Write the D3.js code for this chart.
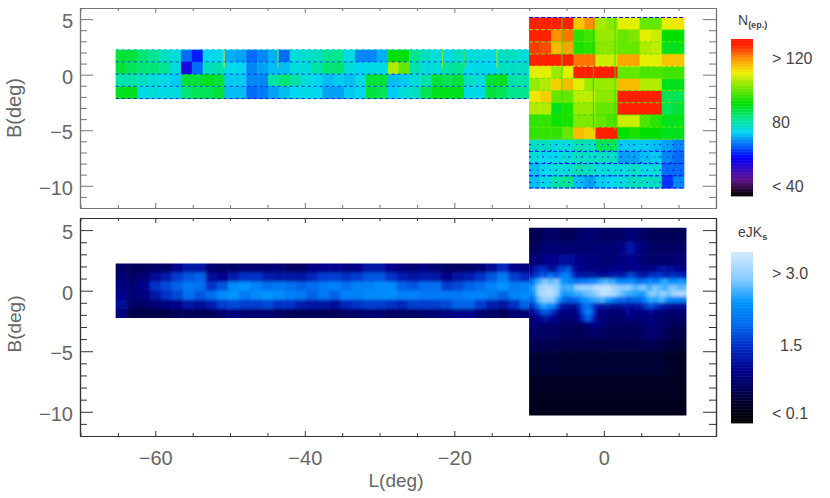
<!DOCTYPE html>
<html><head><meta charset="utf-8">
<script src="https://cdn.jsdelivr.net/npm/d3@7"></script>
<style>html,body{margin:0;background:#fff}svg{display:block}text{font-family:"Liberation Sans",sans-serif;fill:#666}</style>
</head><body><svg id="c" width="830" height="498"></svg>
<script>
// ---- Top panel: epochs per tile, rows north to south ----
const bulgeEpochs = [
[130,130,130,130,115,120,105,103,110,110,100,100,110,112],
[128,128,120,122,95,97,104,104,100,102,110,108,92,92],
[126,125,116,118,94,95,103,103,100,100,106,107,90,90],
[130,130,130,130,122,122,108,108,118,118,110,110,115,115],
[110,110,104,110,130,130,130,130,100,100,98,98,97,97],
[104,106,114,116,110,104,104,104,116,116,106,106,90,90],
[112,114,100,100,107,107,103,103,130,130,130,130,86,86],
[106,106,90,94,104,104,100,100,130,130,130,130,86,88],
[96,96,93,94,102,102,100,98,108,108,98,95,90,90],
[96,96,96,100,116,114,130,130,92,94,92,92,90,90],
[78,78,76,76,80,78,86,86,73,73,73,72,70,68],
[76,74,74,76,78,78,78,78,70,70,72,73,68,66],
[72,74,76,76,80,78,76,76,76,78,75,76,66,66],
[72,75,80,82,72,70,73,74,76,78,78,78,62,68]];
const diskEpochs = [
[88,88,84,82,78,76,66,60,74,75,71,70,66,68,71,66,76,77,78,82,82,75,68,68,71,92,92,82,78,76,75,78,76,76,75,78,78,76],
[88,86,84,84,82,76,54,66,78,80,75,74,68,70,72,72,76,76,80,84,84,76,74,75,75,106,100,80,76,76,80,82,75,75,74,78,78,78],
[80,80,78,76,75,73,88,88,90,88,73,73,68,68,80,84,80,76,74,72,73,72,75,88,88,72,73,76,80,88,86,88,78,76,88,90,80,80],
[90,90,75,76,75,76,84,86,86,88,72,72,66,67,70,72,74,75,74,70,70,73,74,88,86,73,76,78,86,90,90,90,75,75,88,86,82,82]];
const bulgeSeamValues = [55,104,100,100,112,100,102,100,96,100,100,60,58,58,56];
const diskSeamValues = [72,62,60,60,52];
const speckleLats = [-6.3,-6.8,-7.4,-7.9,-8.6,-9.1,-9.7];
const speckleValue = [60,62,58,60,58,56,60];
const seamLons = [-50.8,-43.6,-28.9,-26,-21.6,-18.7,-14.3,-5.6,-1.4,1.5];
const seamValues = [112,105,95,100,105,100,108,95,90,95];
const epochTicks = [">  120","80","<  40"];
const epochTickValues = [120,80,40];

// ---- Bottom panel: colour excess, rows north to south ----
const diskLons = [-64.5,-63,-61.5,-60,-58.5,-57,-55.5,-54,-52.5,-51,-49.5,-48,-46.5,-45,-43.5,-42,-40.5,-39,-37.5,-36,-34.5,-33,-31.5,-30,-28.5,-27,-25.5,-24,-22.5,-21,-19.5,-18,-16.5,-15,-13.5,-12,-10.5];
const diskLats = [1.875,1.125,0.375,-0.375,-1.125,-1.875];
const diskExcess = [
[.7,.6,.6,.7,.7,1.0,1.2,1.2,.8,.7,.7,.8,.8,.8,.8,.7,.7,.9,1.0,1.0,.9,1.0,1.2,1.2,1.0,.9,.8,.9,.8,.7,.7,.7,.8,1.1,1.4,1.0,.9],
[.8,.7,.8,1.1,1.3,1.6,1.8,1.9,1.1,1.0,1.3,1.5,1.5,1.3,1.2,1.2,1.2,1.4,1.6,1.6,1.5,1.6,1.8,1.8,1.5,1.3,1.2,1.3,1.2,1.0,1.2,1.3,1.5,1.8,2.1,1.6,1.4],
[.9,.8,1.0,1.5,1.7,1.9,2.1,2.0,1.5,1.8,2.3,2.4,2.2,2.0,2.1,2.0,1.9,2.0,2.1,2.2,2.0,2.2,2.2,2.3,2.3,1.9,1.8,2.0,2.0,1.6,1.7,1.9,2.0,2.2,2.4,2.1,2.2],
[1.0,.8,.9,1.2,1.5,1.7,2.0,1.8,2.0,2.3,2.4,2.1,2.3,2.4,2.3,2.2,2.1,1.9,2.1,1.9,2.2,2.2,2.3,2.3,2.3,2.2,2.2,2.1,2.1,2.1,2.1,2.2,2.2,2.1,1.9,2.2,2.3],
[1.1,.7,.7,.8,.9,1.0,1.2,1.1,1.3,1.6,1.7,1.6,1.6,1.7,1.5,1.5,1.3,1.2,1.2,1.1,1.4,1.5,1.6,1.6,1.5,1.4,1.6,1.6,1.6,1.7,1.9,1.9,1.6,1.3,1.2,1.5,1.9],
[.9,.5,.5,.5,.5,.6,.6,.6,.6,.8,.9,.8,.8,.8,.7,.6,.6,.6,.6,.6,.7,.7,.8,.8,.7,.7,.7,.8,.8,.9,1.0,1.0,.8,.7,.6,.8,.8]];
const bulgeLatEdges = [5.2,4,3,2,-2.5,-3,-4,-5,-7,-8.5,-10.3];
const bulgeExcess = [
[.5,.6,.7,.7,.6,.6,.7,.8,.8,.7,.7,.7,.7,.9,.8,.7,.6,.6,.6,.6,.6],
[.6,.7,.8,.8,.8,.8,.8,.8,.8,.8,.8,.8,1.0,1.2,1.0,.8,.7,.7,.7,.7,.7],
[.8,.9,1.0,1.0,1.1,1.1,1.0,.9,.9,.8,.8,.8,.9,1.0,.9,.8,.7,.8,.8,.8,.8],
[1.5,1.5,1.5,1.5,1.5,1.5,1.5,1.5,1.5,1.5,1.5,1.5,1.5,1.5,1.5,1.5,1.5,1.5,1.5,1.5,1.5],
[.8,.8,.8,.8,.7,.7,.7,.8,1.0,.9,.7,.7,.7,.7,.7,.8,.9,.8,.7,.6,.6],
[.7,.7,.7,.7,.6,.6,.6,.6,.7,.7,.6,.6,.6,.6,.6,.7,.8,.7,.6,.5,.5],
[.55,.55,.55,.55,.5,.5,.5,.5,.5,.5,.5,.5,.5,.5,.5,.55,.55,.5,.45,.4,.4],
[.38,.38,.38,.42,.38,.38,.38,.38,.38,.38,.36,.35,.35,.35,.35,.35,.35,.35,.33,.3,.3],
[.27,.27,.27,.27,.27,.27,.27,.27,.27,.27,.27,.26,.26,.26,.26,.26,.26,.25,.25,.25,.25],
[.2,.2,.2,.2,.2,.2,.2,.2,.2,.2,.2,.2,.2,.2,.2,.2,.2,.2,.2,.2,.2]];
const coreLatEdges = [2,1.5,1,.5,0,-.5,-1,-1.5,-2,-2.5];
const coreExcess = [
[1.0,1.3,1.4,1.5,1.4,1.1,1.1,1.4,1.7,1.6,1.9,1.4,1.1,1.0,1.0,.9,.9,.9,.9,.9,.9,.9,1.0,1.0,1.0,.9,.9,.9,1.0,1.0,.9,.9,1.0,1.0,1.1,1.2,1.2,1.1,1.1,1.0,1.0,1.0],
[1.3,1.5,1.6,1.9,1.7,2.1,1.9,1.8,2.1,2.2,2.2,1.7,1.3,1.2,1.2,1.2,1.2,1.2,1.1,1.1,1.1,1.2,1.2,1.3,1.2,1.3,1.6,1.7,1.5,1.3,1.2,1.3,1.5,1.5,1.6,1.5,1.3,1.4,1.5,1.4,1.4,1.3],
[1.9,2.4,2.6,2.8,2.9,2.7,2.8,2.9,2.5,2.4,2.3,2.2,2.0,2.1,2.1,2.2,2.3,2.3,2.5,2.6,2.7,2.6,2.6,2.4,2.3,2.2,2.3,2.4,2.1,2.0,2.1,2.2,2.4,2.1,2.2,2.5,2.6,2.4,2.3,2.4,2.5,2.4],
[2.4,2.6,3.0,3.1,3.2,3.2,3.1,3.0,2.7,2.6,2.7,2.6,2.9,3.0,3.1,3.0,3.0,3.2,3.3,3.3,3.3,3.3,3.1,3.0,2.9,2.9,3.0,2.8,2.7,2.8,2.9,2.7,2.6,2.9,2.8,2.7,2.6,2.8,2.9,2.8,2.7,2.8],
[2.3,2.5,3.0,3.2,3.2,3.3,3.2,3.0,2.6,2.4,2.5,2.5,2.6,2.6,2.7,2.8,2.8,2.9,3.1,3.3,3.3,3.2,3.2,3.0,2.8,2.7,2.6,2.6,2.5,2.5,2.4,2.7,2.9,2.9,2.8,3.0,2.9,2.8,3.1,3.1,3.2,3.1],
[1.9,2.2,2.7,2.9,3.0,2.9,2.9,2.6,2.2,1.9,1.8,1.9,1.9,2.1,2.4,2.4,2.5,2.6,2.6,2.7,2.5,2.4,2.2,2.0,1.9,2.0,1.8,1.9,1.9,1.9,2.1,2.4,2.6,2.5,2.6,2.7,2.5,2.3,2.2,2.2,2.1,2.2],
[1.4,1.7,2.1,2.5,2.5,2.2,2.4,1.8,1.3,1.2,1.1,1.1,1.1,1.5,1.9,2.1,1.9,1.5,1.3,1.2,1.2,1.2,1.1,1.1,1.1,1.2,1.2,1.1,1.2,1.2,1.4,1.6,1.8,1.6,1.5,1.3,1.2,1.1,1.1,1.1,1.1,1.1],
[1.0,1.2,1.4,1.8,1.8,1.7,1.4,1.1,1.0,.9,.9,.9,1.0,1.3,1.8,2.2,2.1,1.4,1.0,.9,.9,.8,.8,.8,.8,.9,1.1,1.0,.9,.9,1.0,1.0,1.1,1.0,.9,.9,.9,.8,.8,.8,.8,.8],
[.8,.9,1.0,1.1,1.2,1.1,1.0,.9,.8,.8,.8,.8,.9,1.1,1.5,1.9,1.7,1.2,.9,.8,.8,.8,.7,.7,.7,.8,.9,.9,.8,.8,.8,.8,.9,.8,.8,.7,.7,.7,.7,.7,.7,.7]];
const excessTicks = [">  3.0","1.5","<  0.1"];
const excessTickValues = [3.0,1.5,0.1];

const xTicksMajor = [-60,-40,-20,0];
const yTicksMajor = [5,0,-5,-10];

const svg = d3.select("#c");
const L = 80, R = 716;
const x = d3.scaleLinear([-70.07,15],[L,R]);
const yTop = d3.scaleLinear([-12,6],[208,8]);
const yBot = d3.scaleLinear([-12,6],[436,218]);
const cN = d3.scaleLinear([34,44,58,74,82,92,111,120,128,132],
 ["#000000","#60108a","#0000ff","#00d8f0","#00e690","#00e000","#f0f000","#ff9000","#ff2000","#ff2000"]).clamp(true);
const cE = d3.scaleLinear([-0.1,0.25,0.6,1.0,1.5,2.0,2.4,2.9,3.45],
 ["#000000","#000020","#000058","#00008c","#0030c8","#0070f0","#0094ff","#88ccff","#d4eaff"]).clamp(true);

// top panel tiles
const disk0=-65.3, disk1=-10, diskN=2.25, diskS=-2.15, bulge0=-10, bulge1=10.7, bulgeN=5.15, bulgeS=-10.2;
const diskW=(disk1-disk0)/38, diskH=(diskN-diskS)/4, bW=(bulge1-bulge0)/14, bH=(bulgeN-bulgeS)/14;
const gTop=svg.append("g");
diskEpochs.forEach((row,r)=>row.forEach((v,c)=>{
 gTop.append("rect").attr("x",x(disk0+c*diskW)).attr("y",yTop(diskN-r*diskH))
  .attr("width",x(disk0+(c+1)*diskW)-x(disk0+c*diskW)+.5).attr("height",yTop(0)-yTop(diskH)+.5).attr("fill",cN(v));
}));
bulgeEpochs.forEach((row,r)=>row.forEach((v,c)=>{
 gTop.append("rect").attr("x",x(bulge0+c*bW)).attr("y",yTop(bulgeN-r*bH))
  .attr("width",x(bulge0+(c+1)*bW)-x(bulge0+c*bW)+.5).attr("height",yTop(0)-yTop(bH)+.5).attr("fill",cN(v));
}));
diskSeamValues.forEach((v,i)=>gTop.append("line").attr("x1",x(disk0)).attr("x2",x(disk1))
 .attr("y1",yTop(diskN-i*diskH)).attr("y2",yTop(diskN-i*diskH))
 .attr("stroke",cN(v)).attr("stroke-dasharray","3 3").attr("stroke-width",.9));
bulgeSeamValues.forEach((v,i)=>gTop.append("line").attr("x1",x(bulge0)).attr("x2",x(bulge1))
 .attr("y1",yTop(bulgeN-i*bH)).attr("y2",yTop(bulgeN-i*bH))
 .attr("stroke",cN(v)).attr("stroke-dasharray","4 2").attr("stroke-width",1));
speckleLats.forEach((b,i)=>gTop.append("line").attr("x1",x(bulge0)).attr("x2",x(bulge1))
 .attr("y1",yTop(b)).attr("y2",yTop(b)).attr("stroke",cN(speckleValue[i]))
 .attr("stroke-dasharray",i%2?"1 5 2 7":"2 6 1 4").attr("stroke-width",1));
seamLons.forEach((l,i)=>gTop.append("line").attr("x1",x(l)).attr("x2",x(l))
 .attr("y1",yTop(l<-10?diskN:bulgeN)).attr("y2",yTop(l<-10?diskN-1.6:-5))
 .attr("stroke",cN(seamValues[i])).attr("stroke-width",.9));

// bottom panel
const defs=svg.append("defs");
const blur=defs.append("filter").attr("id","soft").attr("x",-.1).attr("y",-.1).attr("width",1.2).attr("height",1.2);
blur.append("feGaussianBlur").attr("stdDeviation","1.8 1.5");
function clip(id,a,b,c,d){defs.append("clipPath").attr("id",id).append("rect").attr("x",x(a)).attr("y",yBot(c)).attr("width",x(b)-x(a)).attr("height",yBot(d)-yBot(c));}
const dLatStep=.75, dLonStep=1.5, pad=14;
clip("cd",-65.3,-10,2.25,-2.25); clip("cb",-10,11.05,5.2,-10.3);
const gd=svg.append("g").attr("clip-path","url(#cd)").append("g").attr("filter","url(#soft)");
diskExcess.forEach((row,r)=>row.forEach((v,c)=>{
 const x0=x(diskLons[c]-dLonStep/2)-(c==0?pad:0), x1=x(diskLons[c]+dLonStep/2)+(c==diskLons.length-1?pad:0)+.5;
 const y0=yBot(diskLats[r]+dLatStep/2)-(r==0?pad:0), y1=yBot(diskLats[r]-dLatStep/2)+(r==diskLats.length-1?pad:0)+.5;
 gd.append("rect").attr("x",x0).attr("y",y0).attr("width",x1-x0).attr("height",y1-y0).attr("fill",cE(v));
}));
const gb=svg.append("g").attr("clip-path","url(#cb)").append("g").attr("filter","url(#soft)");
bulgeExcess.forEach((row,r)=>row.forEach((v,c)=>{
 const n=row.length;
 const x0=x(-10+c)-(c==0?pad:0), x1=x(-10+c+1.05)+(c==n-1?pad:0)+.5;
 const y0=yBot(bulgeLatEdges[r])-(r==0?pad:0), y1=yBot(bulgeLatEdges[r+1])+(r==bulgeExcess.length-1?pad:0)+.5;
 gb.append("rect").attr("x",x0).attr("y",y0).attr("width",x1-x0).attr("height",y1-y0).attr("fill",cE(v));
}));
coreExcess.forEach((row,r)=>row.forEach((v,c)=>{
 const n=row.length;
 const x0=x(-10+c*.5)-(c==0?pad:0), x1=x(-10+(c+1)*.5)+(c==n-1?pad:0)+.5;
 const y0=yBot(coreLatEdges[r]), y1=yBot(coreLatEdges[r+1])+.5;
 gb.append("rect").attr("x",x0).attr("y",y0).attr("width",x1-x0).attr("height",y1-y0).attr("fill",cE(v));
}));

// axes
function frame(y,top,bot,showX,col,ylab,ylabSize){
 const minorX=d3.range(-70,16,5).filter(v=>!xTicksMajor.includes(v));
 const minorY=d3.range(-12,7,1).filter(v=>!yTicksMajor.includes(v));
 const style=g=>{g.selectAll(".domain").attr("stroke",col).attr("stroke-width",1.2);g.selectAll("line").attr("stroke",col);g.selectAll("text").attr("font-size",20).style("fill","#666");};
 svg.append("g").attr("transform",`translate(0,${bot})`).call(d3.axisBottom(x).tickValues(xTicksMajor).tickSize(-5).tickSizeOuter(0).tickFormat(showX?d=>d<0?"\u2212"+(-d):d:"").tickPadding(15)).call(style);
 svg.append("g").attr("transform",`translate(0,${bot})`).call(d3.axisBottom(x).tickValues(minorX).tickSize(-3).tickSizeOuter(0).tickFormat("")).call(style);
 svg.append("g").attr("transform",`translate(0,${top})`).call(d3.axisTop(x).tickValues(xTicksMajor).tickSize(-5).tickSizeOuter(0).tickFormat("")).call(style);
 svg.append("g").attr("transform",`translate(0,${top})`).call(d3.axisTop(x).tickValues(minorX).tickSize(-3).tickSizeOuter(0).tickFormat("")).call(style);
 const la=svg.append("g").attr("transform",`translate(${L},0)`).call(d3.axisLeft(y).tickValues(yTicksMajor).tickSize(-13).tickSizeOuter(0).tickPadding(7).tickFormat(d=>d<0?"\u2212"+(-d):d)).call(style);
 la.selectAll("text").attr("dy","0.42em");
 svg.append("g").attr("transform",`translate(${L},0)`).call(d3.axisLeft(y).tickValues(minorY).tickSize(-7).tickSizeOuter(0).tickFormat("")).call(style);
 svg.append("g").attr("transform",`translate(${R},0)`).call(d3.axisRight(y).tickValues(yTicksMajor).tickSize(-13).tickSizeOuter(0).tickFormat("")).call(style);
 svg.append("g").attr("transform",`translate(${R},0)`).call(d3.axisRight(y).tickValues(minorY).tickSize(-7).tickSizeOuter(0).tickFormat("")).call(style);
 svg.append("text").attr("transform",`translate(21,${ylab}) rotate(-90)`).attr("text-anchor","middle").attr("font-size",ylabSize).text("B(deg)");
}
frame(yTop,8,208,false,"#777",108,20);
frame(yBot,218,436,true,"#333",324,19);
svg.append("text").attr("x",396).attr("y",487).attr("text-anchor","middle").attr("font-size",19).text("L(deg)");

// colour bars
function bar(y0,y1,dom,c){
 const s=d3.scaleLinear(dom,[y0,y1]);
 const n=Math.round((y1-y0)/1.5);
 d3.range(n).forEach(i=>{
  const v=s.invert(y0+(i+.5)*(y1-y0)/n);
  svg.append("rect").attr("x",731).attr("y",y0+i*(y1-y0)/n).attr("width",22).attr("height",(y1-y0)/n+.4).attr("fill",c(v));
 });
 return s;
}
const sN=bar(39,196,[132,34],cN);
const sE=bar(252,423,[3.45,-0.1],cE);
epochTickValues.forEach((v,i)=>svg.append("text").attr("x",772).attr("y",sN(v)+5.5).attr("font-size",16).style("fill","#444").text(epochTicks[i]));
excessTickValues.forEach((v,i)=>svg.append("text").attr("x",i==1?780:772).attr("y",sE(v)+5.5).attr("font-size",16).style("fill","#444").text(excessTicks[i]));
const t1=svg.append("text").attr("x",738).attr("y",25).attr("font-size",14).style("fill","#444");
t1.append("tspan").text("N");t1.append("tspan").attr("font-size",9).attr("dy",3).attr("font-weight","bold").text("(ep.)");
const t2=svg.append("text").attr("x",738).attr("y",237).attr("font-size",14).style("fill","#444");
t2.append("tspan").text("eJK");t2.append("tspan").attr("font-size",9).attr("dy",3).attr("font-weight","bold").text("s");
</script></body></html>
